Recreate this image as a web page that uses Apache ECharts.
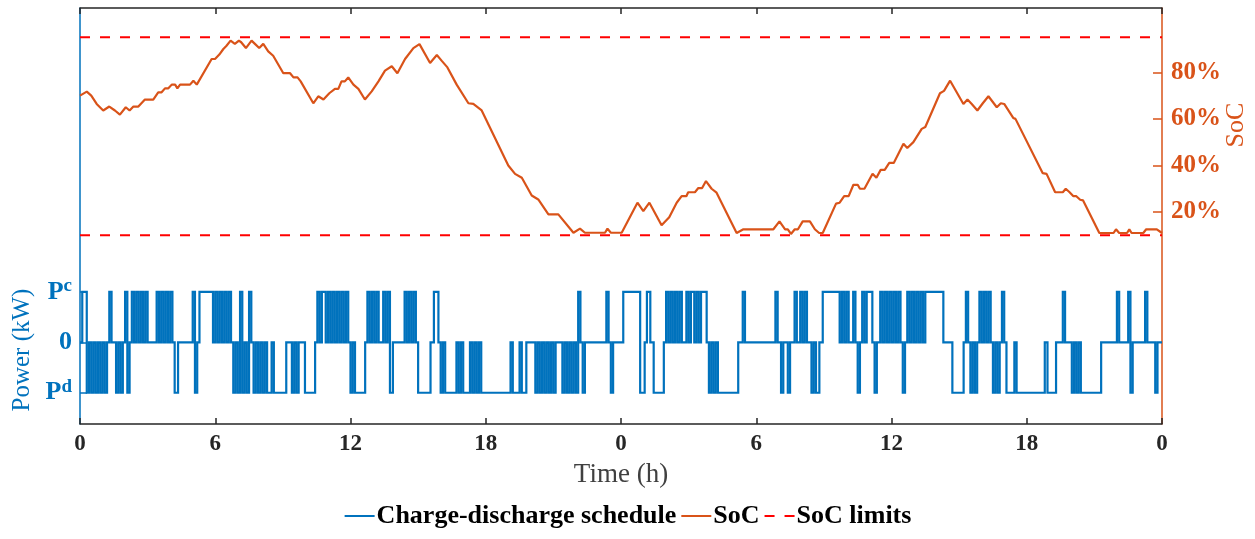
<!DOCTYPE html>
<html>
<head>
<meta charset="utf-8">
<script src="https://cdn.jsdelivr.net/npm/echarts@6/dist/echarts.min.js"></script>
<style>
  html, body { margin: 0; padding: 0; background: #fff; }
  #chart { width: 1255px; height: 539px; }
</style>
</head>
<body>
<div id="chart"></div>
<script>
// two days, ticks every 6 h
const socTicks = [20, 40, 60, 80];
const powerTicks = [-1, 0, 1];
const socLimits = [95, 10];

// SoC trace (time in h, SoC in %)
const socTime = [
  0.0, 0.3, 0.5, 0.74, 1.03, 1.3, 1.55, 1.77, 2.03, 2.2, 2.37, 2.59, 2.88, 3.25, 3.47, 3.62,
  3.77, 3.92, 4.07, 4.22, 4.32, 4.44, 4.88, 5.03, 5.18, 5.84, 5.99, 6.18, 6.36, 6.5, 6.68, 6.87,
  7.05, 7.15, 7.36, 7.61, 7.76, 7.95, 8.13, 8.35, 8.57, 9.02, 9.32, 9.47, 9.65, 9.79, 10.35, 10.57,
  10.8, 11.06, 11.31, 11.46, 11.6, 11.75, 11.9, 12.13, 12.35, 12.64, 12.94, 13.24, 13.53, 13.83, 14.08, 14.42,
  14.79, 15.06, 15.53, 15.83, 16.04, 16.3, 16.71, 17.23, 17.45, 17.82, 19.0, 19.3, 19.6, 20.04, 20.33, 20.78,
  21.22, 21.89, 22.18, 22.4, 23.29, 23.4, 23.55, 24.03, 24.73, 24.99, 25.26, 25.8, 26.14, 26.47, 26.69, 26.9,
  26.98, 27.28, 27.43, 27.6, 27.77, 28.02, 28.24, 29.13, 29.43, 30.76, 31.03, 31.28, 31.4, 31.54, 31.71, 31.85,
  32.06, 32.38, 32.6, 32.79, 32.95, 33.54, 33.7, 33.9, 34.1, 34.31, 34.5, 34.6, 34.8, 35.16, 35.33, 35.52,
  35.7, 35.9, 36.1, 36.53, 36.7, 36.97, 37.34, 37.5, 38.15, 38.33, 38.6, 39.19, 39.37, 39.56, 39.81, 40.05,
  40.3, 40.67, 40.85, 41.0, 41.4, 41.5, 42.71, 42.88, 43.26, 43.6, 43.73, 43.9, 44.07, 44.2, 44.37, 44.5,
  45.22, 45.85, 45.96, 46.1, 46.45, 46.55, 46.65, 47.17, 47.3, 47.77, 48.0
];
const socValue = [
  70, 71.7, 70, 66.4, 63.6, 65.3, 63.6, 61.8, 65, 63.6, 65.3, 65.3, 68.3, 68.3, 71.4, 71.4,
  73.1, 73.1, 74.7, 74.7, 73.1, 74.7, 74.7, 76.4, 74.7, 85.7, 85.7, 87.6, 90, 91.4, 93.6, 92.2,
  93.6, 92.9, 90.4, 93.6, 92.2, 90.4, 92.2, 89, 87.1, 79.6, 79.6, 77.8, 77.8, 76.1, 66.7, 69.7,
  68.3, 71, 72.9, 72.9, 76.1, 76.1, 77.8, 74.7, 72.9, 68.3, 71.8, 76.1, 80.7, 82.6, 79.6, 85.7,
  90.4, 92.1, 84, 87.4, 85, 82.1, 74.7, 66.7, 66.4, 63.6, 40, 36.4, 34.7, 27.1, 25.4, 19,
  19, 11.1, 12.9, 11.1, 11.1, 12.9, 11.1, 11.1, 24, 20.4, 24, 14.3, 17.8, 24, 26.8, 26.8,
  28.5, 28.5, 30.3, 30.3, 33.3, 30, 28.3, 11, 12.6, 12.6, 16, 12.6, 12.6, 10.6, 12.6, 12.6,
  16, 16, 12.6, 11, 11, 23.6, 24, 26.8, 26.8, 31.7, 31.7, 30, 30, 36.4, 34.7, 38.1,
  38.1, 41.1, 41.1, 49.3, 47.5, 50, 55.7, 56.5, 71, 72, 76.4, 66.4, 68.3, 66.4, 63.6, 66.7,
  69.7, 65, 66.7, 66.4, 60.4, 60, 36.7, 36.4, 28.5, 28.5, 30, 28.5, 26.8, 26.8, 25.3, 25,
  11, 11, 12.6, 11, 11, 12.6, 11, 11, 12.6, 12.6, 11
];

// charge/discharge schedule: [switch time (h), level] with 1 = Pc, 0 = idle, -1 = Pd
const schedule = [
  [0,0],[0.1,1],[0.3,-1],[0.4,0],
  [0.5,-1],[0.6,0],[0.7,-1],[0.8,0],[0.9,-1],[1.0,0],[1.1,-1],[1.2,0],
  [1.3,1],[1.4,0],[1.6,-1],[1.7,0],[1.8,-1],[1.9,0],[2.0,1],[2.1,-1],[2.2,0],
  [2.3,1],[2.4,0],[2.5,1],[2.6,0],[2.7,1],[2.8,0],[2.9,1],[3.0,0],
  [3.4,1],[3.5,0],
  [3.6,1],[3.7,0],[3.8,1],[3.9,0],[4.0,1],[4.1,0],
  [4.2,-1],[4.35,0],[5.0,1],[5.1,-1],[5.2,0],[5.3,1],
  [5.9,0],[6.0,1],[6.1,0],[6.2,1],[6.3,0],[6.4,1],[6.5,0],[6.6,1],[6.7,0],[6.8,-1],
  [6.9,0],[7.0,-1],[7.1,1],[7.2,-1],[7.3,0],[7.4,-1],[7.5,1],[7.6,0],[7.7,-1],[7.8,0],
  [7.9,-1],[8.0,0],[8.1,-1],[8.2,0],
  [8.3,-1],[8.5,0],[8.6,-1],[9.15,0],[9.4,-1],[9.5,0],[9.6,-1],[9.7,0],[9.98,-1],[10.43,0],
  [10.53,1],[10.63,0],[10.73,1],
  [10.9,0],[11.0,1],[11.1,0],[11.2,1],[11.3,0],[11.4,1],[11.5,0],[11.6,1],[11.7,0],[11.8,1],[11.9,0],
  [12.0,-1],[12.1,0],[12.2,-1],[12.65,0],
  [12.75,1],[12.85,0],[12.95,1],[13.05,0],[13.15,1],[13.25,0],
  [13.45,1],[13.55,0],[13.65,1],[13.75,-1],[13.88,0],
  [14.4,1],[14.5,0],[14.6,1],[14.7,0],[14.8,1],[14.9,0],
  [15.0,-1],[15.55,0],[15.7,1],[15.9,0],[16.0,-1],[16.1,0],[16.2,-1],[16.7,0],[16.8,-1],[16.9,0],[17.0,-1],
  [17.3,0],[17.4,-1],[17.5,0],[17.6,-1],[17.7,0],[17.8,-1],
  [19.1,0],[19.2,-1],[19.5,0],[19.6,-1],[19.8,0],
  [20.2,-1],[20.3,0],[20.4,-1],[20.5,0],[20.6,-1],[20.7,0],[20.8,-1],[20.9,0],[21.0,-1],[21.1,0],
  [21.4,-1],[21.5,0],[21.6,-1],[21.7,0],[21.8,-1],[21.9,0],[22.0,-1],[22.1,1],[22.2,0],[22.3,-1],[22.4,0],
  [23.35,1],[23.45,0],[23.55,-1],[23.65,0],
  [24.1,1],[24.85,-1],[25.05,0],[25.15,1],[25.3,0],[25.45,-1],[25.9,0],
  [26.0,1],[26.1,0],[26.2,1],[26.3,0],[26.4,1],[26.5,0],[26.6,1],[26.7,0],
  [26.9,1],[27.0,0],[27.1,1],[27.25,0],[27.35,1],[27.45,0],[27.55,1],[27.8,0],
  [27.9,-1],[28.0,0],[28.1,-1],[28.2,0],[28.3,-1],[29.2,0],
  [29.4,1],[29.5,0],[30.85,1],[30.95,0],[31.1,-1],[31.2,0],[31.4,-1],[31.5,0],
  [31.7,1],[31.8,0],[31.95,1],[32.05,0],[32.15,1],[32.25,0],
  [32.45,-1],[32.55,0],[32.65,-1],[32.8,0],
  [32.95,1],[33.7,0],[33.8,1],[33.9,0],[34.0,1],[34.1,0],[34.3,1],[34.4,0],
  [34.5,-1],[34.6,0],[34.7,1],[34.8,0],[34.9,1],[35.15,0],[35.25,-1],[35.35,0],
  [35.5,1],[35.6,0],[35.7,1],[35.8,0],[35.9,1],[36.0,0],[36.1,1],[36.2,0],[36.3,1],[36.4,0],
  [36.5,-1],[36.6,0],
  [36.7,1],[36.8,0],[36.9,1],[37.0,0],[37.1,1],[37.2,0],[37.3,1],[37.4,0],[37.5,1],[38.3,0],
  [38.7,-1],[39.2,0],[39.3,1],[39.4,0],
  [39.5,-1],[39.6,0],[39.7,-1],[39.8,0],
  [39.9,1],[40.0,0],[40.1,1],[40.2,0],[40.3,1],[40.4,0],
  [40.5,-1],[40.6,0],[40.7,-1],[40.8,0],
  [40.9,1],[41.0,0],[41.1,-1],[41.45,0],[41.55,-1],[42.8,0],[42.92,-1],[43.3,0],[43.6,1],[43.7,0],
  [44.0,-1],[44.1,0],[44.2,-1],[44.3,0],[44.4,-1],[45.3,0],
  [46.0,1],[46.1,0],[46.5,1],[46.6,-1],[46.7,0],[47.25,1],[47.35,0],[47.7,-1],[47.8,0],
  [48,0]
];

const blue = '#0072BD';
const orange = '#D95319';
const red = '#FF0000';
const serif = 'Liberation Serif';

const socData = socTime.map((t, i) => [t, socValue[i]]);

const chart = echarts.init(document.getElementById('chart'));

chart.setOption({
  animation: false,
  backgroundColor: '#fff',
  grid: { left: 80, right: 93, top: 8, bottom: 115 },
  legend: {
    bottom: 5,
    left: 'center',
    itemWidth: 30,
    itemHeight: 14,
    itemGap: 4,
    itemStyle: { opacity: 0 },
    textStyle: { fontFamily: serif, fontWeight: 'bold', fontSize: 26, color: '#000', padding: [0, 0, 0, -3] },
    data: ['Charge-discharge schedule', 'SoC', 'SoC limits']
  },
  xAxis: [{
    type: 'value',
    min: 0, max: 48, interval: 6,
    name: 'Time (h)',
    nameLocation: 'middle',
    nameGap: 37,
    nameTextStyle: { fontFamily: serif, fontSize: 27, color: '#404040' },
    axisLine: { onZero: false, lineStyle: { color: '#262626', width: 1.5 } },
    axisTick: { inside: true, length: 6, lineStyle: { color: '#262626', width: 1.5 } },
    axisLabel: {
      margin: 9,
      fontFamily: serif, fontWeight: 'bold', fontSize: 23, color: '#262626',
      formatter: v => String(v % 24)
    },
    splitLine: { show: false }
  }, {
    type: 'value',
    position: 'top',
    min: 0, max: 48, interval: 6,
    axisLine: { onZero: false, lineStyle: { color: '#262626', width: 1.5 } },
    axisTick: { inside: true, length: 6, lineStyle: { color: '#262626', width: 1.5 } },
    axisLabel: { show: false },
    splitLine: { show: false }
  }],
  yAxis: [{
    type: 'value',
    position: 'left',
    min: -1.62, max: 6.63,
    axisLine: { show: true, onZero: false, lineStyle: { color: blue, width: 1.5 } },
    axisTick: { show: true, inside: true, length: 7, customValues: powerTicks, lineStyle: { color: blue, width: 1.5 } },
    axisLabel: {
      customValues: powerTicks,
      margin: 8,
      color: blue,
      formatter: v => v === 1 ? '{b|P}{s|c}' : v === -1 ? '{b|P}{s|d}' : '{b|0}',
      rich: {
        b: { fontFamily: serif, fontWeight: 'bold', fontSize: 26, color: blue },
        s: { fontFamily: serif, fontWeight: 'bold', fontSize: 19, color: blue, padding: [0, 0, 12, 0] }
      }
    },
    splitLine: { show: false }
  }, {
    type: 'value',
    position: 'right',
    min: -71, max: 107.6,
    axisLine: { show: true, onZero: false, lineStyle: { color: orange, width: 1.5 } },
    axisTick: { show: true, inside: true, length: 9, customValues: socTicks, lineStyle: { color: orange, width: 1.5 } },
    axisLabel: {
      customValues: socTicks,
      margin: 9,
      fontFamily: serif, fontWeight: 'bold', fontSize: 25, color: orange,
      formatter: '{value}%'
    },
    splitLine: { show: false }
  }],
  graphic: [{
    type: 'text',
    x: 22, y: 350,
    rotation: Math.PI / 2,
    style: { text: 'Power (kW)', fontFamily: serif, fontSize: 25, fill: blue, align: 'center', verticalAlign: 'middle' }
  }, {
    type: 'text',
    x: 1236, y: 125,
    rotation: Math.PI / 2,
    style: { text: 'SoC', fontFamily: serif, fontSize: 26, fill: orange, align: 'center', verticalAlign: 'middle' }
  }],
  series: [{
    name: 'Charge-discharge schedule',
    type: 'line',
    yAxisIndex: 0,
    step: 'end',
    symbol: 'none',
    data: schedule,
    lineStyle: { color: blue, width: 2.2, join: 'miter' },
    itemStyle: { color: blue }
  }, {
    name: 'SoC',
    type: 'line',
    yAxisIndex: 1,
    symbol: 'none',
    data: socData,
    lineStyle: { color: orange, width: 2.2 },
    itemStyle: { color: orange }
  }, {
    name: 'SoC limits',
    type: 'line',
    yAxisIndex: 1,
    symbol: 'none',
    data: [[0, socLimits[0]], [48, socLimits[0]]],
    lineStyle: { color: red, width: 2, type: [10, 10] },
    itemStyle: { color: red }
  }, {
    name: 'SoC limits',
    type: 'line',
    yAxisIndex: 1,
    symbol: 'none',
    data: [[0, socLimits[1]], [48, socLimits[1]]],
    lineStyle: { color: red, width: 2, type: [10, 10] },
    itemStyle: { color: red }
  }]
});
</script>
</body>
</html>
